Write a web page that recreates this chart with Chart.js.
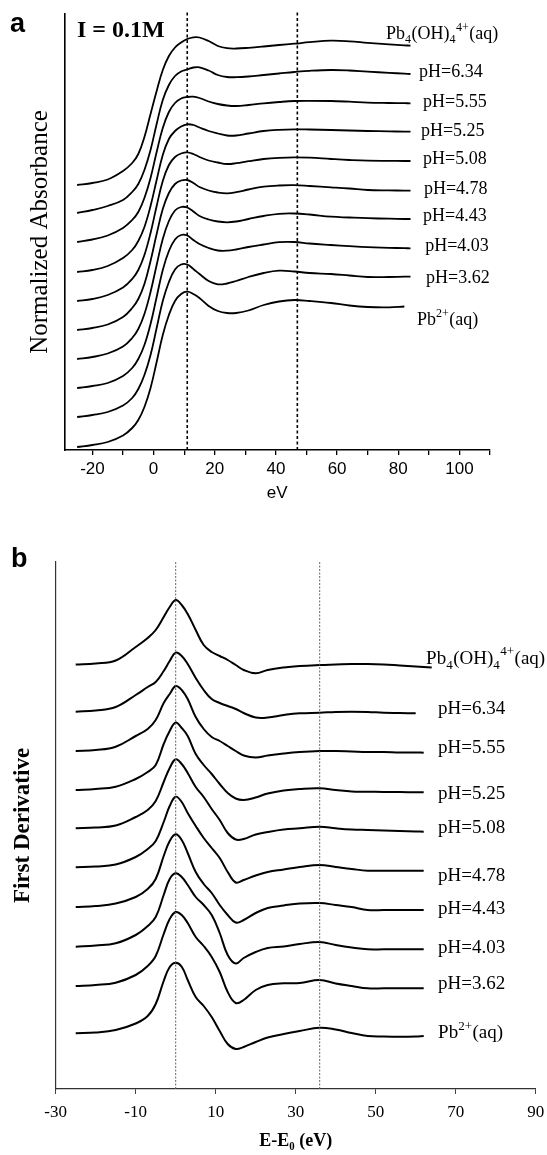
<!DOCTYPE html>
<html><head><meta charset="utf-8">
<script src="https://cdn.jsdelivr.net/npm/chart.js@4.4.1/dist/chart.umd.min.js"></script>
<style>
html,body{margin:0;padding:0;background:#fff;}
#wrap{position:relative;width:547px;height:1155px;overflow:hidden;}
canvas{position:absolute;left:0;}
#ca{top:0;} #cb{top:530px;}
</style></head><body>
<div id="wrap"><canvas id="ca" width="547" height="520"></canvas><canvas id="cb" width="547" height="625"></canvas></div>
<script>
// ================= DATA =================
// Panel a: normalized absorbance (stacked), energy in eV
const energyA = [-25,-20,-15,-10,-7,-5,-3,-1,1,3,5,7,9,11,13,15,18,21,24,27,31,36,41,46,51,58,64,70,77,82,84];
const absPb4OH4 = [2.65,2.67,2.705,2.79,2.87,2.96,3.13,3.36,3.59,3.80,3.94,4.025,4.075,4.11,4.127,4.125,4.09,4.04,4.018,4.015,4.022,4.035,4.05,4.063,4.078,4.093,4.087,4.072,4.057,4.047,4.043];
const absPH634 = [2.37,2.40,2.44,2.50,2.58,2.66,2.80,3.00,3.26,3.50,3.65,3.74,3.785,3.805,3.825,3.827,3.795,3.75,3.73,3.728,3.735,3.75,3.765,3.78,3.792,3.80,3.795,3.783,3.772,3.763,3.76];
const absPH555 = [2.08,2.105,2.145,2.22,2.30,2.38,2.52,2.72,2.98,3.22,3.38,3.47,3.515,3.53,3.533,3.52,3.485,3.46,3.445,3.44,3.45,3.467,3.48,3.49,3.492,3.49,3.483,3.474,3.47,3.468,3.467];
const absPH525 = [1.78,1.80,1.84,1.92,2.00,2.09,2.23,2.44,2.70,2.95,3.11,3.19,3.235,3.257,3.25,3.225,3.19,3.165,3.145,3.145,3.165,3.19,3.202,3.207,3.205,3.20,3.195,3.19,3.186,3.184,3.183];
const absPH508 = [1.49,1.51,1.55,1.625,1.71,1.80,1.95,2.17,2.44,2.69,2.85,2.93,2.965,2.977,2.96,2.93,2.895,2.875,2.86,2.868,2.888,2.91,2.922,2.927,2.923,2.91,2.90,2.893,2.891,2.89,2.89];
const absPH478 = [1.20,1.22,1.255,1.33,1.42,1.51,1.66,1.89,2.16,2.41,2.57,2.66,2.695,2.70,2.67,2.63,2.595,2.575,2.567,2.578,2.605,2.633,2.645,2.648,2.64,2.627,2.615,2.60,2.596,2.594,2.593];
const absPH443 = [0.91,0.93,0.965,1.035,1.12,1.21,1.36,1.58,1.85,2.11,2.29,2.395,2.43,2.425,2.385,2.34,2.305,2.285,2.277,2.285,2.31,2.34,2.362,2.365,2.355,2.333,2.325,2.318,2.313,2.31,2.31];
const absPH403 = [0.62,0.64,0.67,0.74,0.82,0.91,1.05,1.26,1.53,1.80,1.99,2.105,2.15,2.145,2.10,2.06,2.02,1.995,1.993,2.005,2.03,2.055,2.078,2.08,2.065,2.05,2.038,2.028,2.022,2.018,2.017];
const absPH362 = [0.33,0.35,0.38,0.445,0.52,0.61,0.75,0.95,1.22,1.49,1.68,1.805,1.855,1.855,1.81,1.76,1.69,1.657,1.665,1.69,1.73,1.77,1.793,1.785,1.77,1.76,1.745,1.73,1.73,1.733,1.733];
const absPb2 = [0.03,0.05,0.08,0.145,0.22,0.30,0.43,0.62,0.88,1.15,1.35,1.49,1.56,1.583,1.56,1.52,1.44,1.39,1.37,1.37,1.395,1.45,1.485,1.50,1.49,1.47,1.445,1.43,1.427,1.435,null];
const refLinesA = [11, 47];
const ticksA = [-20,-10,0,10,20,30,40,50,60,70,80,90,100,110];
const labeledTicksA = [-20,0,20,40,60,80,100];

// Panel b: first derivative (stacked), energy E-E0 in eV
const energyB = [-25,-20,-15,-10,-7,-5,-3,-1.5,0,1.5,3,5,7,9,11,13,15,17,20,23,27,31,36,40,44,48,52,56,60,62,64];
const derPb4OH4 = [42.45,42.55,42.85,44.2,45.1,45.9,47.2,48.2,48.9,48.4,47.5,45.9,44.4,43.7,43.3,42.9,42.4,41.9,41.57,41.9,42.15,42.3,42.4,42.45,42.5,42.5,42.45,42.35,42.25,42.2,42.15];
const derPH634 = [37.73,37.85,38.2,39.4,40.2,40.7,41.8,42.8,43.63,43.3,42.5,41.1,39.9,39.0,38.6,38.3,38.0,37.6,37.15,37.15,37.4,37.57,37.63,37.7,37.73,37.7,37.63,37.6,37.57,null,null];
const derPH555 = [33.8,33.9,34.23,35.3,36.0,36.9,38.6,39.5,40.3,39.9,39.0,37.2,36.0,35.2,34.8,34.3,33.8,33.35,33.15,33.35,33.55,33.7,33.8,33.8,33.75,33.7,33.7,33.65,33.65,33.63,null];
const derPH525 = [29.9,30.0,30.23,31.0,31.7,32.4,34.5,35.8,36.65,36.1,35.3,33.5,32.4,31.5,30.5,29.6,29.05,28.9,29.15,29.55,29.85,30.0,30.07,29.9,29.75,29.73,29.7,29.7,29.67,29.67,null];
const derPH508 = [26.07,26.15,26.35,27.2,27.9,28.8,30.7,32.1,32.97,32.5,31.6,30.2,29.2,28.0,26.9,25.6,24.95,25.0,25.45,25.7,25.95,26.07,26.23,26.07,25.95,25.9,25.85,25.8,25.75,25.73,null];
const derPH478 = [22.17,22.25,22.45,23.2,24.0,24.8,26.7,28.3,29.23,28.7,27.6,26.3,25.1,24.1,23.1,21.7,20.65,20.9,21.35,21.7,21.95,22.2,22.4,22.2,22.0,21.83,21.83,21.83,21.83,21.83,null];
const derPH443 = [18.2,18.3,18.55,19.2,20.0,21.0,23.3,24.8,25.47,24.9,23.6,21.7,20.5,19.6,18.4,17.4,16.65,16.9,17.6,18.1,18.35,18.55,18.6,18.4,18.2,17.9,17.9,17.9,17.9,17.9,null];
const derPH403 = [14.23,14.35,14.57,15.4,16.3,17.2,19.4,21.0,21.57,21.2,20.4,19.2,18.4,17.4,15.6,13.4,12.55,13.1,13.7,14.1,14.25,14.5,14.7,14.4,14.15,13.97,13.97,13.97,13.97,13.97,null];
const derPH362 = [10.3,10.4,10.63,11.4,12.3,13.3,15.5,17.0,17.7,17.4,16.6,15.2,14.3,13.2,11.7,9.7,8.6,8.9,9.9,10.4,10.57,10.6,10.9,10.55,10.3,10.07,10.07,10.07,10.07,10.07,null];
const derPb2 = [5.57,5.65,5.9,6.55,7.3,8.5,10.8,12.2,12.63,12.23,10.9,9.2,8.3,7.2,5.8,4.5,4.0,4.2,4.7,5.15,5.5,5.8,6.13,5.95,5.6,5.3,5.25,5.23,5.25,5.3,null];
const refLinesB = [0, 36];
const ticksB = [-30,-10,10,30,50,70,90];

// Curve labels (top to bottom). _x = subscript, ^{..} = superscript
const curveLabels = ['Pb_4(OH)_4^{4+}(aq)','pH=6.34','pH=5.55','pH=5.25','pH=5.08','pH=4.78','pH=4.43','pH=4.03','pH=3.62','Pb^{2+}(aq)'];
const seriesA = [absPb4OH4,absPH634,absPH555,absPH525,absPH508,absPH478,absPH443,absPH403,absPH362,absPb2];
const seriesB = [derPb4OH4,derPH634,derPH555,derPH525,derPH508,derPH478,derPH443,derPH403,derPH362,derPb2];

// ================= STYLE / PLACEMENT =================
const SERIF = '"Liberation Serif","Times New Roman",serif';
const SANS = '"Liberation Sans",Arial,sans-serif';
const labelXA = [76.0,86.8,88.1,87.4,88.1,88.4,88.1,88.8,89.1,86.1];   // eV where label starts
const labelDyA = [-13,-3,-2,-2,-3,-3,-4,-3,0,13];                    // px from curve end
const labelXB = [62.6,65.6,65.6,65.6,65.6,65.6,65.6,65.6,65.6,65.6];
const labelDyB = [-10,-6,-6,0,-5,4,-2,-3,-6,-4];

function toPoints(xs, ys){ const out=[]; for(let i=0;i<xs.length;i++){ if(ys[i]!==null && ys[i]!==undefined) out.push({x:xs[i], y:ys[i]}); } return out; }

function drawRich(ctx, spec, x, yc, size, family, color){
  const parts=[]; let i=0;
  while(i<spec.length){
    const c=spec[i];
    if(c==='_'){ parts.push({t:spec[i+1],k:'sub'}); i+=2; }
    else if(c==='^'){ const j=spec.indexOf('}',i); parts.push({t:spec.slice(i+2,j),k:'sup'}); i=j+1; }
    else { let j=i; while(j<spec.length && spec[j]!=='_' && spec[j]!=='^') j++; parts.push({t:spec.slice(i,j),k:'n'}); i=j; }
  }
  ctx.save(); ctx.fillStyle=color||'#000'; ctx.textBaseline='alphabetic'; ctx.textAlign='left';
  let cx=x; const base=yc+size*0.33;
  for(const p of parts){
    const fs = p.k==='n'?size:Math.round(size*0.68);
    ctx.font = fs+'px '+family;
    const dy = p.k==='sub'? size*0.25 : (p.k==='sup'? -size*0.45 : 0);
    ctx.fillText(p.t, cx, base+dy);
    cx += ctx.measureText(p.t).width + (p.k==='n'?0:0.5);
  }
  ctx.restore();
}

function labelPlugin(labelX, labelDy, size){
  return {
    id:'curveLabels',
    afterDatasetsDraw(chart){
      const ctx=chart.ctx, xs=chart.scales.x;
      curveLabels.forEach((txt,i)=>{
        const meta=chart.getDatasetMeta(i+2);
        const last=meta.data[meta.data.length-1];
        drawRich(ctx, txt, xs.getPixelForValue(labelX[i]), last.y+labelDy[i], size, SERIF, '#000');
      });
    }
  };
}

function textPlugin(items){
  return { id:'freeText', afterDraw(chart){
    const ctx=chart.ctx; ctx.save();
    items.forEach(it=>{ ctx.font=it.font; ctx.fillStyle='#000'; ctx.textBaseline='alphabetic'; ctx.textAlign='left'; ctx.fillText(it.text,it.x,it.y); });
    ctx.restore();
  }};
}

// ================= PANEL A =================
const yMaxA = 4.36;
const dsA = [];
refLinesA.forEach(e=>dsA.push({data:[{x:e,y:0},{x:e,y:4.40}], borderColor:'#000', borderWidth:1.6, borderDash:[3,2.5], pointRadius:0, clip:false, tension:0}));
seriesA.forEach((s,i)=>dsA.push({label:curveLabels[i], data:toPoints(energyA,s), borderColor:'#000', borderWidth:1.8, pointRadius:0, tension:0.4, fill:false}));

new Chart(document.getElementById('ca'), {
  type:'line',
  data:{datasets:dsA},
  options:{
    responsive:false, animation:false, devicePixelRatio:1,
    layout:{padding:{left:0,right:57,top:14,bottom:0}},
    plugins:{legend:{display:false}, tooltip:{enabled:false}},
    scales:{
      x:{type:'linear', min:-29.2, max:110,
        afterBuildTicks:s=>{ s.ticks = ticksA.map(v=>({value:v})); },
        ticks:{autoSkip:false, maxRotation:0, color:'#000', padding:4, font:{family:SANS,size:17},
          callback:(v)=> labeledTicksA.includes(v)? String(v) : ''},
        grid:{drawOnChartArea:false, drawTicks:true, tickLength:5, color:'#000', lineWidth:1.3},
        border:{display:true, color:'#000', width:1.6},
        title:{display:true, text:'eV', color:'#000', font:{family:SANS,size:17}, padding:{top:0,bottom:16}},
        afterFit:s=>{ s.height=70; }
      },
      y:{type:'linear', min:0, max:yMaxA,
        ticks:{display:false},
        grid:{display:false},
        border:{display:true, color:'#000', width:1.6},
        title:{display:true, text:'Normalized Absorbance', color:'#000', font:{family:SERIF,size:25}, padding:{top:25,bottom:0}},
        afterFit:s=>{ s.width=64.3; }
      }
    }
  },
  plugins:[labelPlugin(labelXA,labelDyA,18), textPlugin([
    {text:'a', x:10, y:32, font:'bold 27px '+SANS},
    {text:'I = 0.1M', x:77, y:37, font:'bold 24px '+SERIF}
  ])]
});

// ================= PANEL B =================
const yMaxB = 52.7;
const dsB = [];
refLinesB.forEach(e=>dsB.push({data:[{x:e,y:0},{x:e,y:yMaxB}], borderColor:'#666', borderWidth:1, borderDash:[2,1.5], pointRadius:0, clip:false, tension:0}));
seriesB.forEach((s,i)=>dsB.push({label:curveLabels[i], data:toPoints(energyB,s), borderColor:'#000', borderWidth:2, pointRadius:0, tension:0.4, fill:false}));

new Chart(document.getElementById('cb'), {
  type:'line',
  data:{datasets:dsB},
  options:{
    responsive:false, animation:false, devicePixelRatio:1,
    layout:{padding:{left:0,right:11.3,top:32,bottom:0}},
    plugins:{legend:{display:false}, tooltip:{enabled:false}},
    scales:{
      x:{type:'linear', min:-30, max:90,
        afterBuildTicks:s=>{ s.ticks = ticksB.map(v=>({value:v})); },
        ticks:{autoSkip:false, maxRotation:0, color:'#000', padding:2, font:{family:SERIF,size:17,lineHeight:2.0},
          callback:(v)=>String(v)},
        grid:{drawOnChartArea:false, drawTicks:true, tickLength:5, color:'#444', lineWidth:1},
        border:{display:true, color:'#333', width:1.2},
        title:{display:true, text:'E-E\u2080 (eV)', color:'#000', font:{family:SERIF,size:18,weight:'bold'}, padding:{top:0,bottom:3}},
        afterFit:s=>{ s.height=66; }
      },
      y:{type:'linear', min:0, max:yMaxB,
        ticks:{display:false},
        grid:{display:false},
        border:{display:true, color:'#333', width:1.2},
        title:{display:true, text:'First Derivative', color:'#000', font:{family:SERIF,size:23,weight:'bold'}, padding:{top:9,bottom:0}},
        afterFit:s=>{ s.width=55.7; }
      }
    }
  },
  plugins:[labelPlugin(labelXB,labelDyB,19), textPlugin([
    {text:'b', x:11, y:567, font:'bold 27px '+SANS}
  ].map(t=>({...t, y:t.y-530}))) ]
});
</script>
</body></html>
